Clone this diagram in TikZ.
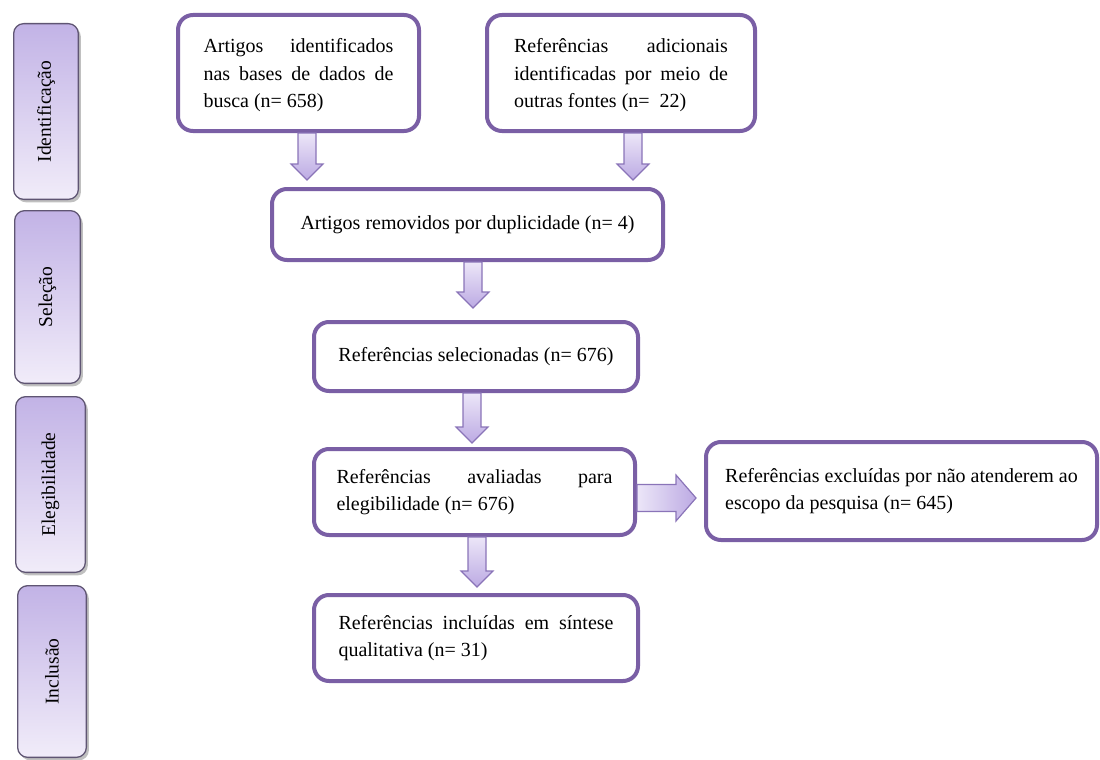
\documentclass[tikz,border=0pt]{standalone}
\usepackage{fontspec}
\setmainfont{Liberation Serif}
\usetikzlibrary{calc,shadows}
\definecolor{boxc}{HTML}{7A5FA5}
\definecolor{arrowedge}{HTML}{8A74B8}
\definecolor{arrowlight}{HTML}{ECE6F8}
\definecolor{arrowdark}{HTML}{BCAAE3}
\definecolor{sideedge}{HTML}{5F5573}
\definecolor{sidetop}{HTML}{C2B3E6}
\definecolor{sidebottom}{HTML}{F1ECF9}
\newcommand\jline[2]{\makebox[#1][s]{#2}}
\tikzset{
  flowbox/.style={draw=boxc, line width=4pt, rounded corners=15pt, fill=white,
    inner sep=0pt, align=left, font=\fontsize{20pt}{27.5pt}\selectfont},
  sidebar/.style={draw=sideedge, line width=1.3pt, rounded corners=10pt,
    top color=sidetop, bottom color=sidebottom,
    drop shadow={shadow xshift=2.5pt, shadow yshift=-3pt, fill=black!45, opacity=.55}},
  sidetext/.style={rotate=90, font=\fontsize{19.5pt}{22pt}\selectfont, text=black},
  blockarrow/.style n args={3}{draw=arrowedge, line width=1.2pt, line join=miter,
    to path={
      ($(\tikztostart)!#1!90:(\tikztotarget)$)
      -- ($(\tikztotarget)!#3!(\tikztostart)!#1!-90:(\tikztostart)$)
      -- ($(\tikztotarget)!#3!(\tikztostart)!#2!-90:(\tikztostart)$)
      -- (\tikztotarget)
      -- ($(\tikztotarget)!#3!(\tikztostart)!#2!90:(\tikztostart)$)
      -- ($(\tikztotarget)!#3!(\tikztostart)!#1!90:(\tikztostart)$)
      -- ($(\tikztostart)!#1!-90:(\tikztotarget)$)
      -- cycle}},
  downarrow/.style={blockarrow={9pt}{16pt}{16pt}, top color=arrowlight, bottom color=arrowdark},
  rightarrow/.style={blockarrow={13.5pt}{23pt}{20pt}, left color=arrowlight, right color=arrowdark}
}
\begin{document}
\begin{tikzpicture}[x=1pt,y=-1pt]
\useasboundingbox (0,0) rectangle (1100,760);

% side bars
\node[sidebar, minimum width=64.7pt, minimum height=175.7pt] (S1) at (46,111.5) {};
\node[sidetext] (S1t) at (S1) {Identificação};
\node[sidebar, minimum width=65.7pt, minimum height=172.7pt] (S2) at (47.5,297) {};
\node[sidetext] (S2t) at (S2) {Seleção};
\node[sidebar, minimum width=69.7pt, minimum height=175.7pt] (S3) at (50.5,484.5) {};
\node[sidetext] (S3t) at (S3) {Elegibilidade};
\node[sidebar, minimum width=68.7pt, minimum height=171.7pt] (S4) at (52,671.5) {};
\node[sidetext] (S4t) at (S4) {Inclusão};

% boxes
\node[flowbox, minimum width=241pt, minimum height=116pt, text depth=0pt] (A) at (298.5,73)
  {\jline{190pt}{Artigos identificados}\\ \jline{190pt}{nas bases de dados de}\\ busca (n= 658)};
\node[flowbox, minimum width=268pt, minimum height=116pt, text depth=0pt] (B) at (621,73)
  {\jline{214pt}{Referências adicionais}\\ \jline{214pt}{identificadas por meio de}\\ outras fontes (n=\ \ 22)};
\node[flowbox, minimum width=391pt, minimum height=71pt] (C) at (467.5,224.5)
  {Artigos removidos por duplicidade (n= 4)};
\node[flowbox, minimum width=324pt, minimum height=69pt] (D) at (476,356.5)
  {Referências selecionadas (n= 676)};
\node[flowbox, minimum width=321pt, minimum height=86pt] (E) at (474.5,492)
  {\jline{276pt}{Referências avaliadas para}\\ elegibilidade (n= 676)};
\node[flowbox, minimum width=391pt, minimum height=98pt] (F) at (901.5,491)
  {Referências excluídas por não atenderem ao\\ escopo da pesquisa (n= 645)};
\node[flowbox, minimum width=324pt, minimum height=86pt] (G) at (476,638)
  {\jline{275pt}{Referências incluídas em síntese}\\ qualitativa (n= 31)};

% arrow end points
\coordinate (a1) at ([xshift=8.5pt]A.south);
\coordinate (c1) at ([yshift=7pt]C.north -| a1);
\coordinate (b1) at ([xshift=12pt]B.south);
\coordinate (c2) at ([yshift=7pt]C.north -| b1);
\coordinate (c3) at ([xshift=5.5pt]C.south);
\coordinate (d1) at ([yshift=12pt]D.north -| c3);
\coordinate (d2) at ([xshift=-4pt]D.south);
\coordinate (e1) at ([yshift=4pt]E.north -| d2);
\coordinate (e2) at ([yshift=-6pt]E.east);
\coordinate (f1) at ([xshift=-8pt]F.west |- e2);
\coordinate (e3) at ([xshift=2.5pt]E.south);
\coordinate (g1) at ([yshift=6pt]G.north -| e3);

% arrows
\path[downarrow] (a1) to (c1);
\path[downarrow] (b1) to (c2);
\path[downarrow] (c3) to (d1);
\path[downarrow] (d2) to (e1);
\path[rightarrow] (e2) to (f1);
\path[downarrow] (e3) to (g1);
\end{tikzpicture}
\end{document}
